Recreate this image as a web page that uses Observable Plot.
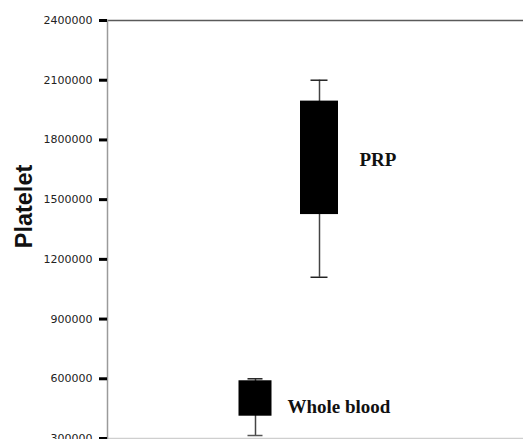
<!DOCTYPE html>
<html>
<head>
<meta charset="utf-8">
<script src="https://cdn.jsdelivr.net/npm/d3@7"></script>
<script src="https://cdn.jsdelivr.net/npm/@observablehq/plot@0.6"></script>
<style>
  html, body { margin: 0; padding: 0; background: #fff; }
  #chart svg { display: block; }
</style>
</head>
<body>
<div id="chart"></div>
<script>
const groups = ["Whole blood", "PRP"];
const whiskerLow = [315000, 1110000];
const q1 = [412000, 1425000];
const q3 = [590000, 1995000];
const whiskerHigh = [600000, 2100000];
const labelAt = [460000, 1700000];
const yTicks = [300000, 600000, 900000, 1200000, 1500000, 1800000, 2100000, 2400000];
const yTitle = "Platelet";

const rows = groups.map((g, i) => ({
  group: g, lo: whiskerLow[i], q1: q1[i], q3: q3[i], hi: whiskerHigh[i], lab: labelAt[i]
}));
const wb = rows.filter(d => d.group === "Whole blood");
const prp = rows.filter(d => d.group === "PRP");

const chart = Plot.plot({
  width: 523,
  height: 439,
  marginLeft: 107,
  marginRight: 0,
  marginTop: 20,
  marginBottom: 1,
  style: { background: "#fff", fontFamily: "DejaVu Sans" },
  x: { type: "band", domain: groups, range: [223, 351], padding: 0, axis: null },
  y: { domain: [300000, 2400000], axis: null },
  marks: [
    Plot.ruleY([300000], { stroke: "#cfcfcf", strokeWidth: 1.5 }),
    Plot.ruleY([2400000], { stroke: "#5a5a5a", strokeWidth: 1.5 }),
    Plot.frame({ anchor: "left", stroke: "#9a9a9a", strokeWidth: 1.5 }),
    Plot.axisY({
      ticks: yTicks, tickFormat: d3.format("d"), tickSize: 8, tickPadding: 7,
      stroke: "#000", strokeWidth: 3, fill: "#222", fontSize: 11, fontFamily: "DejaVu Sans", label: null
    }),
    Plot.ruleX(rows, { x: "group", y1: "lo", y2: "hi", stroke: "#444", strokeWidth: 1.5 }),
    Plot.tickY(wb, { x: "group", y: "hi", stroke: "#222", strokeWidth: 1.5, insetLeft: 24.5, insetRight: 24.5 }),
    Plot.tickY(wb, { x: "group", y: "lo", stroke: "#555", strokeWidth: 1.5, insetLeft: 24.5, insetRight: 24.5 }),
    Plot.tickY(prp, { x: "group", y: "hi", stroke: "#222", strokeWidth: 1.5, insetLeft: 23.5, insetRight: 23.5 }),
    Plot.tickY(prp, { x: "group", y: "lo", stroke: "#222", strokeWidth: 1.5, insetLeft: 23.5, insetRight: 23.5 }),
    Plot.barY(wb, { x: "group", y1: "q1", y2: "q3", fill: "#000", insetLeft: 15.5, insetRight: 15.5 }),
    Plot.barY(prp, { x: "group", y1: "q1", y2: "q3", fill: "#000", insetLeft: 13, insetRight: 13 }),
    Plot.text(wb, { x: "group", y: "lab", text: "group", textAnchor: "start", dx: 32,
      fontFamily: "Liberation Serif", fontWeight: "bold", fontSize: 19, fill: "#111" }),
    Plot.text(prp, { x: "group", y: "lab", text: "group", textAnchor: "start", dx: 40,
      fontFamily: "Liberation Serif", fontWeight: "bold", fontSize: 19, fill: "#111" }),
    Plot.text([yTitle], { frameAnchor: "left", textAnchor: "middle", rotate: -90, dx: -83, dy: -23,
      fontFamily: "Liberation Sans", fontWeight: "bold", fontSize: 23.5, fill: "#111" })
  ]
});
document.getElementById("chart").appendChild(chart);
</script>
</body>
</html>
